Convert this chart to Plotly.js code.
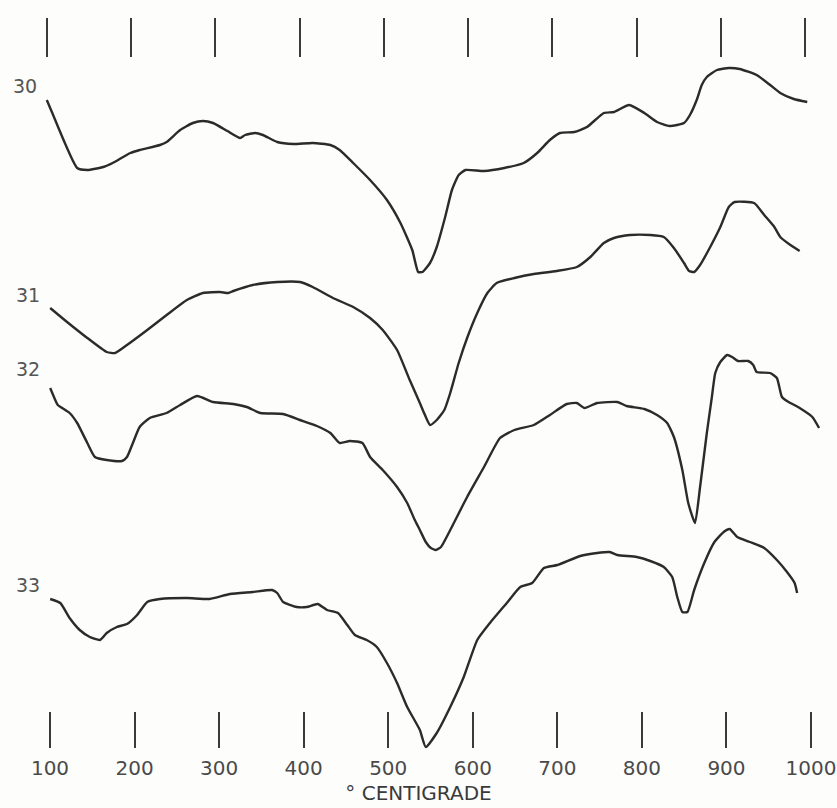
<!DOCTYPE html>
<html>
<head>
<meta charset="utf-8">
<script src="https://cdn.plot.ly/plotly-3.0.1.min.js"></script>
<style>
  html, body { margin: 0; padding: 0; background: #fdfdfb; }
  #chart { width: 837px; height: 808px; }
</style>
</head>
<body>
<div id="chart"></div>
<script>
// Temperature (°C) and DTA deflection (arbitrary units, up = exothermic)
const curveNames = ["30", "31", "32", "33"];

const t30 = [98,104,134,146,165,176,197,208,232,240,256,271,283,295,312,327,333,345,354,371,390,413,434,445,461,481,501,517,531,538,543,552,560,570,578,586,594,616,640,663,679,694,706,723,738,758,770,788,806,821,836,853,860,868,874,880,892,906,919,939,955,967,983,999];
const v30 = [708,696,640,638,641,645,655,658,663,666,678,685,687,685,677,670,673,675,673,666,664,665,663,658,645,628,608,585,558,536,536,545,561,591,618,633,638,637,640,645,655,668,675,676,681,695,696,703,695,686,682,685,693,708,723,731,738,740,739,733,723,715,709,706];

const t31 = [102,122,146,169,179,193,217,240,264,283,303,313,319,342,371,398,413,437,461,481,496,513,528,540,545,552,560,569,576,586,596,608,620,631,652,675,702,726,742,758,770,789,813,829,841,853,859,865,872,884,896,906,913,936,948,960,967,979,990];
const v31 = [500,486,470,456,455,463,478,493,508,515,516,515,517,523,526,526,521,510,501,490,478,458,428,405,395,383,388,398,415,445,470,495,515,525,530,534,537,541,551,565,570,573,573,571,560,545,537,536,543,561,581,601,606,605,593,581,571,563,557];

const t32 = [102,108,111,125,134,146,155,169,187,193,200,208,220,240,256,276,295,319,335,351,378,398,418,434,445,457,472,481,496,513,525,534,540,547,553,559,565,576,596,616,635,652,675,694,714,726,735,750,774,785,806,821,833,841,851,858,866,872,880,886,890,896,904,910,917,929,935,939,955,963,969,975,990,1005,1013];
const v32 = [420,408,403,395,385,365,351,348,347,351,365,381,390,395,403,412,406,404,401,395,394,388,382,375,365,367,365,351,338,321,305,288,278,266,260,258,261,278,311,341,370,378,383,393,404,405,400,405,406,402,399,393,385,371,338,305,285,321,375,411,435,446,453,451,447,447,443,436,435,430,411,407,400,391,380];

const t33 = [102,114,125,137,149,161,169,181,193,205,217,232,264,291,315,342,365,371,378,394,406,419,430,443,454,463,477,489,501,513,525,540,547,560,576,592,608,623,643,659,673,687,703,730,750,765,774,797,813,829,839,845,851,857,865,877,889,900,907,916,931,948,963,975,984,987];
const v33 = [209,205,190,178,171,168,175,181,184,193,206,209,210,209,214,216,218,215,206,201,201,204,198,195,183,173,168,161,145,125,101,78,61,75,101,131,168,185,205,221,225,240,243,252,255,256,253,251,247,241,231,211,196,196,218,245,266,276,279,271,266,260,248,236,225,215];

const tickValues = [100,200,300,400,500,600,700,800,900,1000];
const tickLabels = ["100","200","300","400","500","600","700","800","900","1000"];
const axisTitle = "° CENTIGRADE";

const seriesT = [t30, t31, t32, t33];
const seriesV = [v30, v31, v32, v33];

const ink = "#2b2b2b";
const traces = seriesT.map((t, i) => ({
  type: "scatter",
  mode: "lines",
  x: t,
  y: seriesV[i],
  name: curveNames[i],
  xaxis: "x",
  yaxis: "y",
  line: { color: ink, width: 2.4, shape: "spline", smoothing: 0.5 },
  hoverinfo: "skip",
  showlegend: false
}));

const labelYShift = [14, 13, 19, 14];
const annotations = seriesT.map((t, i) => ({
  x: t[0],
  y: seriesV[i][0],
  xref: "x",
  yref: "y",
  text: curveNames[i],
  showarrow: false,
  xshift: -22,
  yshift: labelYShift[i],
  font: { family: "DejaVu Sans", size: 19, color: "#555" }
}));

const layout = {
  width: 837,
  height: 808,
  margin: { l: 0, r: 0, t: 0, b: 0 },
  paper_bgcolor: "#fdfdfb",
  plot_bgcolor: "rgba(0,0,0,0)",
  showlegend: false,
  xaxis: {
    range: [42.54, 1034.24],
    visible: false,
    fixedrange: true
  },
  xaxis2: {
    overlaying: "x",
    anchor: "free",
    position: 60 / 808,
    side: "bottom",
    range: [40.87, 1030.7],
    tickmode: "array",
    tickvals: tickValues,
    ticktext: tickLabels,
    ticks: "inside",
    ticklen: 36,
    tickwidth: 2,
    tickcolor: "#3a3a3a",
    showline: false,
    showgrid: false,
    zeroline: false,
    ticklabelstandoff: 6,
    tickfont: { family: "DejaVu Sans", size: 20, color: "#4a4a4a" },
    title: { text: axisTitle, standoff: 6, font: { family: "DejaVu Sans", size: 20, color: "#3a3a3a" } }
  },
  xaxis3: {
    overlaying: "x",
    anchor: "free",
    position: (808 - 57) / 808,
    side: "top",
    range: [44.19, 1038.0],
    tickmode: "array",
    tickvals: tickValues,
    ticks: "outside",
    ticklen: 39,
    tickwidth: 2,
    tickcolor: "#3a3a3a",
    showticklabels: false,
    showline: false,
    showgrid: false,
    zeroline: false
  },
  yaxis: {
    range: [0, 808],
    visible: false,
    fixedrange: true
  },
  annotations: annotations
};

// invisible carriers so the extra tick axes are drawn
traces.push({ type: "scatter", mode: "lines", x: [tickValues[0]], y: [0], xaxis: "x2", yaxis: "y", hoverinfo: "skip", showlegend: false, line: { width: 0 } });
traces.push({ type: "scatter", mode: "lines", x: [tickValues[0]], y: [0], xaxis: "x3", yaxis: "y", hoverinfo: "skip", showlegend: false, line: { width: 0 } });

Plotly.newPlot("chart", traces, layout, { displayModeBar: false, staticPlot: true });
</script>
</body>
</html>
